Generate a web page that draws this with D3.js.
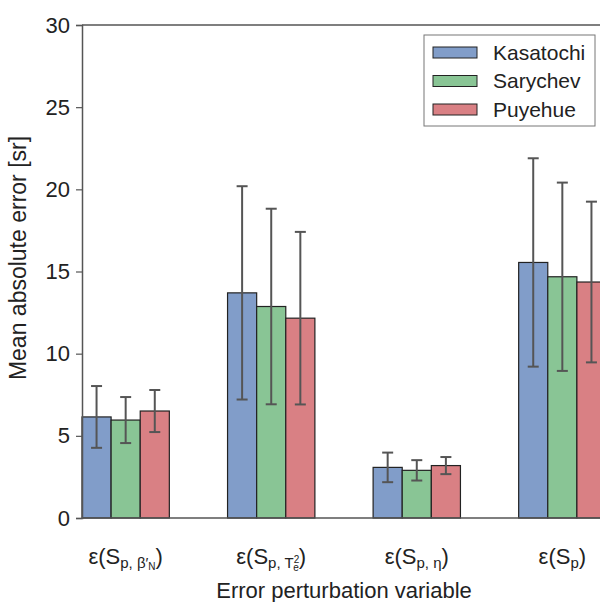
<!DOCTYPE html>
<html>
<head>
<meta charset="utf-8">
<script src="https://cdn.jsdelivr.net/npm/d3@7"></script>
<style>
  body { margin: 0; background: #fff; }
  svg text { font-family: "Liberation Sans", Arial, Helvetica, sans-serif; fill: #222; }
</style>
</head>
<body>
<script>
// data
var groups = ["beta", "tau", "eta", "p"];
var seriesNames = ["Kasatochi", "Sarychev", "Puyehue"];
var seriesColors = ["#819dc9", "#89c595", "#d98084"];
var kasatochiMean = [6.15, 13.70, 3.08, 15.55];
var kasatochiErr = [1.88, 6.49, 0.90, 6.34];
var sarychevMean = [5.96, 12.87, 2.90, 14.68];
var sarychevErr = [1.40, 5.95, 0.62, 5.73];
var puyehueMean = [6.51, 12.16, 3.19, 14.36];
var puyehueErr = [1.28, 5.25, 0.52, 4.89];
var yTicks = [0, 5, 10, 15, 20, 25, 30];

(function() {
  var means = [kasatochiMean, sarychevMean, puyehueMean];
  var errs = [kasatochiErr, sarychevErr, puyehueErr];

  var width = 600, height = 602;
  var mLeft = 82, mRight = 606, mTop = 25, mBottom = 518;
  var barW = 0.2;

  var svg = d3.select("body").append("svg").attr("width", width).attr("height", height);

  var x = d3.scaleLinear().domain([0, 3.6]).range([mLeft, mRight]);
  var y = d3.scaleLinear().domain([0, 30]).range([mBottom, mTop]);

  //flatten into bar records
  var bars = [];
  groups.forEach(function(g, i) {
    seriesNames.forEach(function(s, j) {
      bars.push({ i: i, j: j, v: means[j][i], e: errs[j][i] });
    });
  });

  svg.selectAll(".bar").data(bars).enter().append("rect")
    .attr("class", "bar")
    .attr("x", function(d) { return x(d.i + d.j * barW); })
    .attr("y", function(d) { return y(d.v); })
    .attr("width", function(d) { return x(barW) - x(0); })
    .attr("height", function(d) { return y(0) - y(d.v); })
    .style("fill", function(d) { return seriesColors[d.j]; })
    .style("stroke", "#222")
    .style("stroke-width", 1.2);

  //error bars
  var eb = svg.selectAll(".err").data(bars).enter().append("g").attr("class", "err")
    .style("stroke", "#555").style("stroke-width", 2);
  function cx(d) { return x(d.i + d.j * barW + barW / 2); }
  eb.append("line")
    .attr("x1", cx).attr("x2", cx)
    .attr("y1", function(d) { return y(d.v - d.e); })
    .attr("y2", function(d) { return y(d.v + d.e); });
  [-1, 1].forEach(function(sgn) {
    eb.append("line")
      .attr("x1", function(d) { return cx(d) - 5.5; })
      .attr("x2", function(d) { return cx(d) + 5.5; })
      .attr("y1", function(d) { return y(d.v + sgn * d.e); })
      .attr("y2", function(d) { return y(d.v + sgn * d.e); });
  });

  //spines
  svg.append("line").attr("x1", mLeft).attr("x2", mRight).attr("y1", mTop).attr("y2", mTop)
    .style("stroke", "#555").style("stroke-width", 1.5);
  svg.append("line").attr("x1", mLeft).attr("x2", mRight).attr("y1", mBottom).attr("y2", mBottom)
    .style("stroke", "#555").style("stroke-width", 1.5);

  var yAxis = d3.axisLeft(y).tickValues(yTicks).tickSize(6).tickPadding(6);
  var gy = svg.append("g").attr("transform", "translate(" + mLeft + ",0)").call(yAxis);
  gy.select(".domain").style("stroke", "#555").style("stroke-width", 1.5);
  gy.selectAll(".tick line").style("stroke", "#555").style("stroke-width", 1.2);
  gy.selectAll("text").style("font-size", "22px").style("fill", "#222")
    .style("font-family", "'Liberation Sans', Arial, sans-serif");

  //x tick labels with sub/superscripts
  var fs = 22, sub = 15, sub2 = 10;
  var labelY = 564;
  function label(i) {
    var t = svg.append("text")
      .attr("x", x(i + 0.3)).attr("y", labelY)
      .attr("text-anchor", "middle")
      .style("font-size", fs + "px");
    t.append("tspan").text("ε(S");
    return t;
  }
  // beta
  var t0 = label(0);
  t0.append("tspan").attr("dy", 4).style("font-size", sub + "px").text("p, β′");
  t0.append("tspan").attr("dy", 2).style("font-size", sub2 + "px").text("N");
  t0.append("tspan").attr("dy", -6).text(")");
  // tau (2 stacked over e)
  var t1 = label(1);
  t1.append("tspan").attr("dy", 4).style("font-size", sub + "px").text("p, T");
  t1.append("tspan").attr("dy", -5).style("font-size", sub2 + "px").text("2");
  t1.append("tspan").attr("dx", -6).attr("dy", 8).style("font-size", sub2 + "px").text("e");
  t1.append("tspan").attr("dy", -7).text(")");
  // eta
  var t2 = label(2);
  t2.append("tspan").attr("dy", 4).style("font-size", sub + "px").text("p, η");
  t2.append("tspan").attr("dy", -4).text(")");
  // p
  var t3 = label(3);
  t3.append("tspan").attr("dy", 4).style("font-size", sub + "px").text("p");
  t3.append("tspan").attr("dy", -4).text(")");

  //axis titles
  svg.append("text").attr("x", (mLeft + mRight) / 2).attr("y", 598)
    .attr("text-anchor", "middle").style("font-size", "22px")
    .text("Error perturbation variable");
  svg.append("text").attr("transform", "translate(26,258)rotate(-90)")
    .attr("text-anchor", "middle").style("font-size", "23px")
    .text("Mean absolute error [sr]");

  //legend
  var lg = svg.append("g").attr("transform", "translate(424,35)");
  lg.append("rect").attr("width", 171).attr("height", 91)
    .style("fill", "#fff").style("stroke", "#777").style("stroke-width", 1);
  var rows = lg.selectAll(".row").data(seriesNames).enter().append("g")
    .attr("transform", function(d, k) { return "translate(0," + (17 + k * 28.5) + ")"; });
  rows.append("rect").attr("x", 9).attr("y", -5).attr("width", 44).attr("height", 11)
    .style("fill", function(d, k) { return seriesColors[k]; })
    .style("stroke", "#222").style("stroke-width", 1);
  rows.append("text").attr("x", 69).attr("y", 7.5).style("font-size", "21px").text(function(d) { return d; });
})();
</script>
</body>
</html>
